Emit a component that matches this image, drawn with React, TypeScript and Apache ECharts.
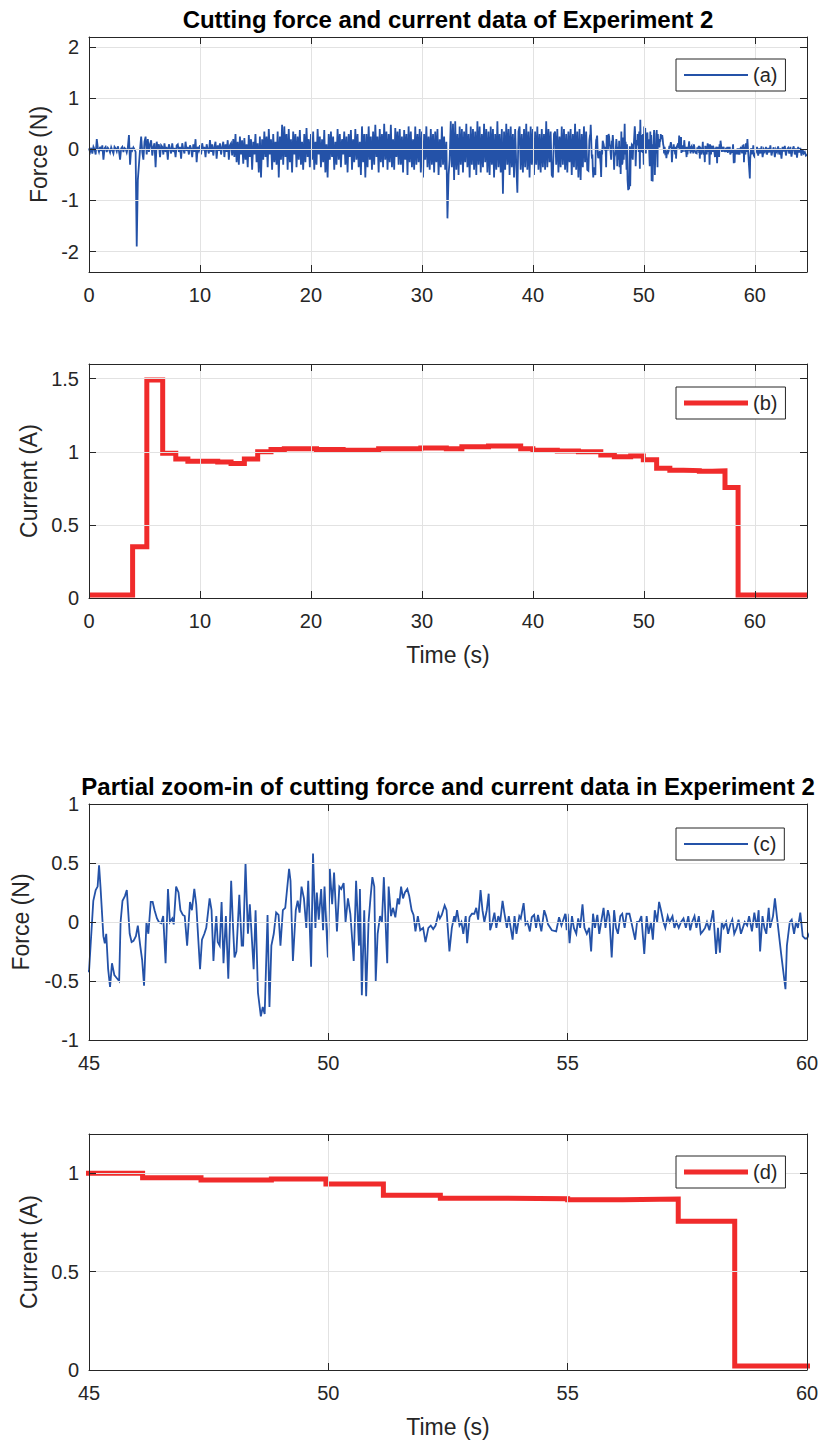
import React, { useEffect, useRef } from 'react';
import * as echarts from 'echarts';

// ---------------- DATA ----------------
// Cutting force, 0 s – 44.9 s, sampled every 0.1 s (one row per second)
const forceHeadStep = 0.1;
const forceHead: number[] = [
  0.02, -0.05, 0.03, -0.08, 0.05, 0.0, -0.1, 0.2, 0.02, -0.05,
  0.05, -0.03, 0.08, -0.2, 0.02, 0.05, -0.05, 0.03, 0.0, -0.06,
  0.04, -0.02, -0.08, 0.05, 0.02, -0.04, 0.06, -0.03, -0.2, 0.02,
  0.05, -0.05, 0.03, 0.01, -0.06, 0.04, 0.28, -0.3, 0.03, -0.02,
  0.04, 0.0, -0.05, -1.9, -0.6, -0.3, 0.0, 0.25, -0.05, -0.2,
  0.15, 0.25, -0.1, 0.2, -0.05, 0.1, 0.18, -0.12, 0.05, 0.12,
  -0.35, 0.15, 0.0, 0.1, -0.15, 0.08, 0.05, -0.1, 0.12, -0.05,
  0.05, -0.2, 0.1, 0.02, -0.08, 0.12, -0.05, 0.03, -0.15, 0.08,
  0.1, -0.05, 0.05, -0.18, 0.12, 0.0, -0.08, 0.15, -0.03, 0.05,
  -0.1, 0.08, 0.02, -0.15, 0.1, -0.05, 0.2, -0.25, 0.05, -0.02,
  0.08, -0.1, 0.12, -0.02, 0.05, -0.15, 0.1, 0.0, -0.08, 0.18,
  -0.05, 0.1, -0.12, 0.05, 0.15, -0.18, 0.08, -0.03, 0.12, -0.1,
  0.05, 0.15, -0.15, 0.1, -0.05, 0.18, -0.2, 0.08, 0.12, -0.12,
  0.2, -0.15, 0.3, -0.25, 0.15, -0.3, 0.25, -0.1, 0.18, -0.28,
  0.22, -0.2, 0.1, -0.35, 0.28, -0.15, 0.2, -0.4, 0.15, -0.1,
  0.3, -0.25, 0.12, -0.45, 0.25, -0.55, 0.2, -0.2, 0.35, -0.15,
  0.25, -0.35, 0.4, -0.1, 0.2, -0.4, 0.3, -0.25, 0.15, -0.3,
  0.35, -0.55, 0.25, -0.2, 0.48, -0.3, 0.45, -0.15, 0.3, -0.4,
  0.4, -0.25, 0.2, -0.45, 0.35, -0.1, 0.3, -0.35, 0.25, -0.2,
  0.38, -0.3, 0.15, -0.4, 0.3, -0.25, 0.42, -0.15, 0.2, -0.35,
  0.3, -0.2, 0.35, -0.4, 0.15, -0.3, 0.4, -0.1, 0.25, -0.35,
  0.2, -0.25, 0.38, -0.45, 0.1, -0.55, 0.3, -0.2, 0.35, -0.15,
  0.25, -0.4, 0.15, -0.3, 0.4, -0.2, 0.3, -0.35, 0.2, -0.1,
  0.35, -0.3, 0.25, -0.45, 0.3, -0.15, 0.38, -0.4, 0.2, -0.25,
  0.4, -0.2, 0.3, -0.35, 0.15, -0.5, 0.45, -0.25, 0.3, -0.55,
  0.3, -0.35, 0.45, -0.2, 0.25, -0.4, 0.35, -0.3, 0.48, -0.15,
  0.25, -0.45, 0.4, -0.25, 0.3, -0.35, 0.5, -0.2, 0.35, -0.4,
  0.3, -0.25, 0.48, -0.35, 0.2, -0.4, 0.42, -0.15, 0.35, -0.3,
  0.4, -0.3, 0.25, -0.45, 0.38, -0.2, 0.3, -0.5, 0.45, -0.25,
  0.35, -0.35, 0.2, -0.4, 0.45, -0.3, 0.3, -0.25, 0.4, -0.45,
  0.35, -0.55, 0.3, -0.2, 0.45, -0.35, 0.25, -0.4, 0.4, -0.3,
  0.3, -0.45, 0.35, -0.25, 0.4, -0.5, 0.2, -0.35, 0.45, -0.3,
  0.25, -0.4, 0.15, -1.35, -0.5, -0.2, 0.55, -0.35, 0.5, -0.6,
  0.55, -0.4, 0.3, -0.5, 0.45, -0.3, 0.4, -0.45, 0.35, -0.25,
  0.5, -0.35, 0.3, -0.55, 0.45, -0.3, 0.4, -0.4, 0.35, -0.5,
  0.55, -0.3, 0.45, -0.45, 0.3, -0.35, 0.5, -0.25, 0.4, -0.45,
  0.35, -0.5, 0.45, -0.3, 0.4, -0.55, 0.3, -0.4, 0.55, -0.35,
  0.3, -0.45, 0.4, -0.87, 0.35, -0.4, 0.5, -0.3, 0.4, -0.5,
  0.45, -0.35, 0.3, -0.55, 0.4, -0.3, -0.85, 0.35, 0.45, -0.4,
  0.3, -0.45, 0.4, -0.35, 0.5, -0.4, 0.35, -0.55, 0.45, -0.3,
  0.4, -0.5, 0.35, -0.3, 0.45, -0.4, 0.3, -0.45, 0.4, -0.35,
  0.3, -0.4, 0.55, -0.35, 0.4, -0.25, 0.35, -0.5, -0.55, 0.3,
  0.35, -0.3, 0.4, -0.45, 0.25, -0.35, 0.45, -0.3, 0.4, -0.4,
  0.3, -0.45, 0.35, -0.25, 0.4, -0.5, 0.3, -0.35, 0.5, -0.4,
  0.35, -0.55, 0.4, -0.6, 0.3, -0.35, 0.45, -0.25, 0.35, -0.4,
];

// Cutting force, 45 s – 60 s: [time (s), force (N)]
const forceZoom: [number, number][] = [
  [45.0, -0.42], [45.09, 0.18], [45.14, 0.27], [45.18, 0.3], [45.21, 0.48], [45.24, 0.3], [45.3, -0.12], [45.33, -0.18], [45.36, -0.1], [45.4, -0.4],
  [45.44, -0.55], [45.48, -0.35], [45.53, -0.45], [45.57, -0.47], [45.63, -0.5], [45.66, 0.0], [45.7, 0.18], [45.75, 0.22], [45.79, 0.27], [45.85, -0.1],
  [45.89, -0.17], [45.93, -0.16], [45.98, -0.12], [46.02, -0.03], [46.07, -0.2], [46.11, -0.32], [46.15, -0.54], [46.2, 0.0], [46.24, -0.1], [46.29, 0.17],
  [46.33, 0.17], [46.37, 0.1], [46.42, 0.03], [46.46, 0.0], [46.51, -0.01], [46.55, 0.05], [46.6, -0.35], [46.65, 0.28], [46.69, 0.0], [46.74, 0.03],
  [46.77, -0.02], [46.82, 0.3], [46.87, 0.25], [46.91, 0.1], [46.96, 0.06], [47.0, 0.05], [47.05, -0.2], [47.11, 0.17], [47.15, 0.1], [47.2, 0.28],
  [47.24, 0.15], [47.32, -0.4], [47.36, -0.15], [47.41, -0.1], [47.45, -0.05], [47.52, 0.2], [47.56, 0.1], [47.6, -0.33], [47.64, -0.05], [47.66, 0.05],
  [47.69, -0.17], [47.73, -0.2], [47.77, 0.17], [47.81, -0.35], [47.86, 0.05], [47.91, -0.48], [47.97, 0.35], [48.01, -0.05], [48.04, -0.3], [48.08, -0.25],
  [48.14, 0.23], [48.19, -0.2], [48.22, -0.2], [48.27, 0.5], [48.32, -0.1], [48.36, 0.15], [48.44, -0.4], [48.48, 0.1], [48.53, -0.6], [48.59, -0.8],
  [48.63, -0.72], [48.67, -0.78], [48.73, 0.06], [48.77, -0.72], [48.81, -0.2], [48.86, -0.1], [48.91, 0.08], [48.96, 0.06], [49.0, -0.2], [49.05, 0.1],
  [49.1, 0.12], [49.18, 0.45], [49.21, 0.35], [49.26, -0.33], [49.32, 0.1], [49.36, 0.18], [49.4, 0.08], [49.44, 0.3], [49.49, 0.2], [49.54, -0.05],
  [49.58, 0.35], [49.64, -0.38], [49.68, 0.58], [49.73, -0.05], [49.76, 0.25], [49.8, 0.02], [49.85, 0.28], [49.89, -0.07], [49.92, 0.3], [49.99, -0.3],
  [50.03, 0.45], [50.08, 0.15], [50.12, 0.42], [50.18, -0.08], [50.23, 0.3], [50.27, 0.28], [50.32, 0.33], [50.36, 0.0], [50.41, 0.2], [50.46, 0.07],
  [50.53, -0.33], [50.58, 0.35], [50.64, -0.2], [50.66, 0.28], [50.7, -0.62], [50.75, 0.1], [50.79, -0.63], [50.84, 0.0], [50.88, 0.2], [50.92, 0.38],
  [50.96, 0.3], [50.99, -0.5], [51.03, -0.1], [51.08, 0.05], [51.12, 0.0], [51.16, 0.38], [51.21, -0.15], [51.23, -0.35], [51.26, 0.3], [51.31, 0.05],
  [51.35, 0.12], [51.4, 0.04], [51.45, 0.2], [51.48, 0.15], [51.52, 0.3], [51.56, 0.2], [51.6, 0.25], [51.65, 0.28], [51.69, 0.22], [51.74, 0.1],
  [51.78, 0.06], [51.82, -0.08], [51.87, 0.05], [51.92, -0.07], [51.98, -0.05], [52.03, -0.17], [52.09, -0.05], [52.14, -0.03], [52.19, -0.06], [52.24, -0.03],
  [52.3, 0.07], [52.33, 0.03], [52.37, 0.06], [52.43, 0.14], [52.47, 0.1], [52.53, -0.25], [52.58, -0.05], [52.63, 0.05], [52.65, 0.0], [52.69, 0.1],
  [52.74, -0.03], [52.78, 0.0], [52.82, -0.1], [52.87, 0.05], [52.9, -0.18], [52.95, 0.04], [53.0, 0.07], [53.05, 0.07], [53.09, 0.12], [53.13, 0.02],
  [53.18, 0.27], [53.22, 0.1], [53.26, 0.0], [53.31, 0.1], [53.35, 0.24], [53.38, -0.07], [53.43, 0.0], [53.47, 0.08], [53.51, -0.05], [53.55, 0.05],
  [53.59, 0.0], [53.64, 0.18], [53.68, 0.07], [53.73, -0.05], [53.77, 0.05], [53.85, -0.15], [53.89, 0.05], [53.93, -0.1], [53.99, 0.05], [54.02, 0.03],
  [54.08, 0.16], [54.12, -0.02], [54.16, 0.0], [54.21, -0.08], [54.25, 0.04], [54.3, 0.06], [54.34, -0.05], [54.38, 0.06], [54.45, -0.08], [54.51, 0.1],
  [54.55, 0.05], [54.59, -0.02], [54.67, -0.07], [54.76, -0.08], [54.82, 0.04], [54.87, -0.03], [54.95, 0.07], [54.98, -0.07], [55.0, 0.07], [55.04, -0.18],
  [55.09, 0.05], [55.13, -0.05], [55.18, -0.1], [55.22, 0.03], [55.26, -0.05], [55.31, 0.15], [55.35, -0.05], [55.4, -0.1], [55.45, -0.05], [55.49, -0.25],
  [55.53, 0.07], [55.57, -0.05], [55.62, 0.06], [55.66, -0.1], [55.7, 0.0], [55.75, 0.12], [55.79, -0.05], [55.84, 0.1], [55.87, 0.05], [55.92, -0.3],
  [55.97, 0.1], [56.01, -0.05], [56.05, -0.1], [56.1, 0.05], [56.14, 0.07], [56.19, -0.05], [56.23, 0.07], [56.29, 0.07], [56.33, 0.0], [56.41, -0.15],
  [56.45, 0.0], [56.49, 0.0], [56.54, 0.05], [56.6, -0.27], [56.65, 0.05], [56.69, -0.1], [56.74, 0.0], [56.78, -0.15], [56.82, 0.1], [56.87, 0.0],
  [56.91, 0.17], [56.95, 0.1], [57.0, 0.0], [57.04, -0.05], [57.09, 0.05], [57.13, 0.0], [57.19, 0.05], [57.23, -0.05], [57.27, 0.0], [57.32, -0.05],
  [57.37, 0.0], [57.42, 0.03], [57.47, -0.05], [57.52, 0.05], [57.56, -0.07], [57.6, 0.0], [57.65, 0.05], [57.69, -0.05], [57.74, 0.05], [57.78, -0.1],
  [57.82, -0.08], [57.87, -0.05], [57.91, 0.0], [57.96, -0.07], [58.04, 0.1], [58.1, -0.27], [58.14, -0.05], [58.18, -0.26], [58.22, 0.0], [58.26, -0.05],
  [58.31, 0.0], [58.35, -0.1], [58.4, -0.02], [58.44, 0.02], [58.48, -0.1], [58.53, -0.05], [58.57, 0.02], [58.62, -0.1], [58.66, -0.05], [58.7, 0.0],
  [58.75, -0.03], [58.79, 0.05], [58.85, -0.08], [58.9, 0.08], [58.95, -0.05], [58.99, 0.1], [59.02, -0.25], [59.07, 0.05], [59.11, -0.05], [59.15, -0.1],
  [59.2, 0.12], [59.23, -0.05], [59.29, 0.05], [59.33, 0.2], [59.37, 0.05], [59.46, -0.27], [59.55, -0.57], [59.58, -0.2], [59.64, 0.0], [59.68, 0.02],
  [59.73, -0.1], [59.77, 0.0], [59.81, -0.05], [59.86, 0.08], [59.91, -0.12], [59.96, -0.14], [60.0, -0.14],
];

// Cutting force, 60.1 s – 64.7 s, every 0.1 s
const forceTailStart = 60.1;
const forceTailStep = 0.1;
const forceTail: number[] = [
  -0.05, 0.05, -0.12, 0.02, -0.08, 0.06, -0.15, 0.0, -0.05,
  0.05, -0.1, 0.03, -0.06, 0.08, -0.12, -0.02, 0.04, -0.15, 0.0,
  -0.05, 0.06, -0.1, 0.02, -0.18, 0.05, -0.04, 0.07, -0.12, 0.0,
  0.03, -0.08, 0.05, -0.14, 0.0, 0.06, -0.1, 0.02, -0.16, 0.05,
  -0.06, 0.03, -0.12, 0.0, -0.08, -0.05, -0.12, -0.1,
];

// Motor current: level holds from each listed time to the next one
const currentStepTimes: number[] = [
  0, 3.93, 5.21, 6.64, 7.82, 8.91, 11.6, 12.8, 14.0, 15.2, 16.4, 17.6, 20.5, 22.9, 26.1, 29.9, 32.2,
  33.6, 36.0, 38.9, 40.0, 42.2, 44.1, 46.12, 47.34, 48.81, 49.95, 51.15, 52.34, 53.57, 55.0, 56.15,
  57.31, 58.49,
];
const currentStepValues: number[] = [
  0.02, 0.35, 1.49, 0.99, 0.95, 0.935, 0.93, 0.92, 0.95, 1.0, 1.015, 1.02, 1.015, 1.01, 1.02, 1.025, 1.02,
  1.035, 1.04, 1.02, 1.01, 1.005, 1.0, 0.978, 0.966, 0.971, 0.946, 0.888, 0.873, 0.871, 0.866, 0.869,
  0.756, 0.02,
];
const recordEnd = 64.7;

// Tick labels
const timeTicksFull = [0, 10, 20, 30, 40, 50, 60];
const timeTicksZoom = [45, 50, 55, 60];
const forceTicksFull = [-2, -1, 0, 1, 2];
const forceTicksZoom = [-1, -0.5, 0, 0.5, 1];
const currentTicksFull = [0, 0.5, 1, 1.5];
const currentTicksZoom = [0, 0.5, 1];

// ---------------- CHART ----------------
const FONT = '"Liberation Sans", Arial, Helvetica, sans-serif';
const AXIS_COLOR = '#262626';
const GRID_COLOR = '#e2e2e2';
const BLUE = '#2452a8';
const RED = '#f02b2b';

function tickFormatter(ticks: number[]) {
  return (v: number) => {
    const hit = ticks.find((t) => Math.abs(t - v) < 1e-6);
    return hit === undefined ? '' : String(hit);
  };
}

function buildOption() {
  const forceSeries: [number, number][] = [
    ...forceHead.map((v, i) => [+(i * forceHeadStep).toFixed(2), v] as [number, number]),
    ...forceZoom,
    ...forceTail.map((v, i) => [+(forceTailStart + i * forceTailStep).toFixed(2), v] as [number, number]),
  ];
  const currentSeries: [number, number][] = currentStepTimes.map(
    (t, i) => [t, currentStepValues[i]] as [number, number]
  );
  currentSeries.push([recordEnd, currentStepValues[currentStepValues.length - 1]]);

  const panels = [
    { top: 37, height: 235, xMin: 0, xMax: 64.7, xInterval: 10, xTicks: timeTicksFull, yMin: -2.4, yMax: 2.2, yInterval: undefined as number | undefined, ySplit: 5, yTicks: forceTicksFull, yName: 'Force (N)', yNameGap: 38, xName: '', legend: '(a)', legendTop: 59, data: forceSeries, color: BLUE, width: 1.8, iconH: 2, step: false as any },
    { top: 364, height: 234, xMin: 0, xMax: 64.7, xInterval: 10, xTicks: timeTicksFull, yMin: 0, yMax: 1.6, yInterval: 0.5, ySplit: 4, yTicks: currentTicksFull, yName: 'Current (A)', yNameGap: 49, xName: 'Time (s)', legend: '(b)', legendTop: 387, data: currentSeries, color: RED, width: 5, iconH: 5, step: 'end' as any },
    { top: 804, height: 236, xMin: 45, xMax: 60, xInterval: 5, xTicks: timeTicksZoom, yMin: -1, yMax: 1, yInterval: 0.5, ySplit: 4, yTicks: forceTicksZoom, yName: 'Force (N)', yNameGap: 57, xName: '', legend: '(c)', legendTop: 828, data: forceSeries, color: BLUE, width: 1.8, iconH: 2, step: false as any },
    { top: 1134, height: 236, xMin: 45, xMax: 60, xInterval: 5, xTicks: timeTicksZoom, yMin: 0, yMax: 1.2, yInterval: 0.5, ySplit: 2, yTicks: currentTicksZoom, yName: 'Current (A)', yNameGap: 49, xName: 'Time (s)', legend: '(d)', legendTop: 1156, data: currentSeries, color: RED, width: 5, iconH: 5, step: 'end' as any },
  ];

  const grid: any[] = [];
  const xAxis: any[] = [];
  const yAxis: any[] = [];
  const series: any[] = [];
  const legend: any[] = [];

  const line = { show: true, onZero: false, lineStyle: { color: AXIS_COLOR, width: 1 } };
  const tick = { show: true, inside: true, length: 7, lineStyle: { color: AXIS_COLOR, width: 1 } };
  const labelText = { fontSize: 20, color: AXIS_COLOR, fontFamily: FONT };
  const nameText = { fontSize: 23, color: AXIS_COLOR, fontFamily: FONT };

  panels.forEach((p, i) => {
    grid.push({ left: 89, top: p.top, width: 718, height: p.height, outerBoundsMode: 'none', containLabel: false, show: false });
    const xc = { type: 'value', gridIndex: i, min: p.xMin, max: p.xMax, interval: p.xInterval, axisLine: line, axisTick: tick };
    xAxis.push({
      ...xc,
      position: 'bottom',
      axisLabel: { show: true, margin: 13, formatter: tickFormatter(p.xTicks), showMinLabel: true, showMaxLabel: true, ...labelText },
      splitLine: { show: true, lineStyle: { color: GRID_COLOR, width: 1 } },
      name: p.xName,
      nameLocation: 'middle',
      nameGap: 45,
      nameTextStyle: nameText,
      z: 3,
    });
    xAxis.push({ ...xc, position: 'top', axisLabel: { show: false }, splitLine: { show: false }, z: 3 });
    const yc: any = { type: 'value', gridIndex: i, min: p.yMin, max: p.yMax, axisLine: line, axisTick: tick, splitNumber: p.ySplit };
    if (p.yInterval !== undefined) yc.interval = p.yInterval;
    yAxis.push({
      ...yc,
      position: 'left',
      axisLabel: { show: true, margin: 10, formatter: tickFormatter(p.yTicks), showMinLabel: true, showMaxLabel: true, ...labelText },
      splitLine: { show: true, lineStyle: { color: GRID_COLOR, width: 1 } },
      name: p.yName,
      nameLocation: 'middle',
      nameGap: p.yNameGap,
      nameTextStyle: nameText,
      z: 3,
    });
    yAxis.push({ ...yc, position: 'right', axisLabel: { show: false }, splitLine: { show: false }, z: 3 });
    series.push({
      type: 'line',
      name: p.legend,
      xAxisIndex: i * 2,
      yAxisIndex: i * 2,
      data: p.data,
      step: p.step,
      showSymbol: false,
      symbol: 'none',
      clip: true,
      silent: true,
      lineStyle: { color: p.color, width: p.width, join: 'miter' },
      itemStyle: { color: p.color },
      z: 2,
    });
    legend.push({
      data: [{ name: p.legend, icon: 'rect' }],
      left: 676,
      top: p.legendTop,
      orient: 'horizontal',
      itemWidth: 64,
      itemHeight: p.iconH,
      padding: [6, 8],
      borderColor: AXIS_COLOR,
      borderWidth: 1,
      borderRadius: 0,
      backgroundColor: '#ffffff',
      selectedMode: false,
      itemStyle: { color: p.color, borderWidth: 0 },
      lineStyle: { width: 0 },
      textStyle: { fontSize: 20, color: AXIS_COLOR, fontFamily: FONT },
      z: 10,
    });
  });

  const titleStyle = { fontSize: 24, fontWeight: 'bold', fontFamily: FONT, fill: '#000000', align: 'center', verticalAlign: 'middle' };

  return {
    animation: false,
    backgroundColor: '#ffffff',
    grid,
    xAxis,
    yAxis,
    series,
    legend,
    graphic: [
      { type: 'text', x: 448, y: 19, style: { ...titleStyle, text: 'Cutting force and current data of Experiment 2' } },
      { type: 'text', x: 448, y: 786, style: { ...titleStyle, text: 'Partial zoom-in of cutting force and current data in Experiment 2' } },
    ],
  };
}

export default function App() {
  const ref = useRef<HTMLDivElement>(null);
  useEffect(() => {
    document.body.style.margin = '0';
    if (!ref.current) return;
    const chart = echarts.init(ref.current, undefined, { renderer: 'svg' });
    chart.setOption(buildOption() as any);
    return () => chart.dispose();
  }, []);
  return <div ref={ref} style={{ width: 824, height: 1443, background: '#fff' }} />;
}
